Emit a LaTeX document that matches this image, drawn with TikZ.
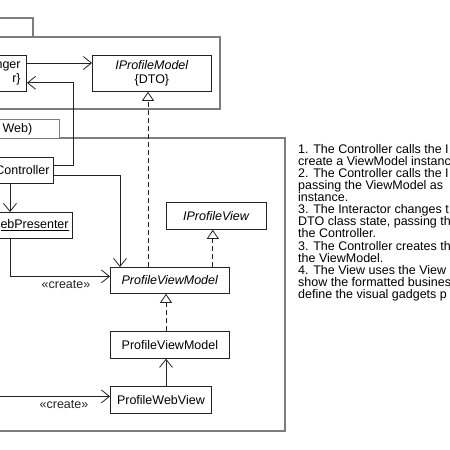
\documentclass[tikz,border=0pt]{standalone}
\usepackage{fontspec}
\setmainfont{Liberation Sans}
\usepackage{xcolor}
\definecolor{umlLine}{RGB}{35,35,35}
\definecolor{umlPkg}{RGB}{125,125,125}
\usepackage{tikz}
\usetikzlibrary{arrows.meta,calc}

\begin{document}
\begin{tikzpicture}[x=1pt,y=-1pt,
  cls/.style={draw=umlLine,line width=0.8pt,fill=white,font=\fontsize{12.5}{14}\selectfont,inner sep=0pt,anchor=north west,align=center,minimum height=26pt},
  cut/.style={cls,anchor=north east,text width=70pt,align=right,inner xsep=4pt},
  pkg/.style={draw=umlPkg,line width=1.3pt},
  dep/.style={-{Straight Barb[length=8pt,width=13pt]},umlLine,line width=0.8pt},
  real/.style={-{Triangle[open,length=9pt,width=12pt]},umlLine,line width=0.8pt,dash pattern=on 5pt off 3pt},
  lbl/.style={font=\fontsize{12.5}{14}\selectfont,inner sep=1pt},
  notes/.style={font=\fontsize{12.5}{12.1}\selectfont,inner sep=0pt,align=left}]
  \useasboundingbox (0,0) rectangle (450,450);
  \clip (0,0) rectangle (450,450);
  % packages
  \draw[pkg] (-10,18) -| (33,37);
  \draw[pkg] (-10,37) rectangle (220,109);
  \draw[pkg] (-10,138) rectangle (285,431);
  \node[cls,pkg,text width=45pt,align=left,inner xsep=12pt,minimum height=19pt] (tab) at (-10,119) {Web)};
  % classes
  \node[cut,inner xsep=6pt,minimum height=36pt] (mgr) at (27,55) {nger\\r\}\hspace*{3pt}};
  \node[cls,minimum width=119pt,minimum height=36pt] (dto) at (92,55) {\textit{IProfileModel}\\\{DTO\}};
  \node[cut] (ctrl) at (54,157) {Controller};
  \node[cut] (pres) at (73,212) {\underline{ebPresenter}};
  \node[cls,minimum width=100pt,minimum height=27pt] (iview) at (166,202) {\textit{IProfileView}};
  \node[cls,minimum width=119pt] (pvmi) at (110,267) {\textit{ProfileViewModel}};
  \node[cls,minimum width=119pt,minimum height=27pt] (pvm) at (110,331) {ProfileViewModel};
  \node[cls,minimum width=101pt,minimum height=27pt] (view) at (110,386) {ProfileWebView};
  \coordinate (lane) at (10,0);
  \coordinate (offpage) at (-5,0);
  % connectors
  \draw[dep] ([yshift=-8pt]mgr.north east) -- ([yshift=-8pt]dto.north west);
  \draw[dep] ([yshift=-8pt]ctrl.north east) -| ([xshift=46pt,yshift=9pt]mgr.south east) -- ([yshift=9pt]mgr.south east);
  \draw[dep] ([yshift=8pt]ctrl.south east) -| ([xshift=10pt]pvmi.north west);
  \draw[dep] (ctrl.south -| lane) -- (pres.north -| lane);
  \draw[dep] (pres.south -| lane) |- ([yshift=4pt]pvmi.west) node[lbl,pos=0.78,below=3pt] {«create»};
  \draw[dep] (offpage |- view.west) ++(0,-3.5) -- ([yshift=3.5pt]view.west) node[lbl,pos=0.6,below=3pt] {«create»};
  \draw[real] ([xshift=38pt]pvmi.north west) -- ([xshift=38pt]pvmi.north west |- dto.south);
  \draw[real] ([xshift=-17pt]pvmi.north east) -- ([xshift=-17pt]pvmi.north east |- iview.south);
  \draw[real] ([xshift=56pt]pvm.north west) -- ([xshift=56pt]pvm.north west |- pvmi.south);
  \draw[dep] ([xshift=56pt]view.north west) -- ([xshift=56pt]view.north west |- pvm.south);
  % steps
  \node[notes,anchor=north west] (steps) at (298,144) {1. The Controller calls the I\\create a ViewModel instance\\2. The Controller calls the I\\passing the ViewModel as\\instance.\\3. The Interactor changes t\\DTO class state, passing th\\the Controller.\\3. The Controller creates th\\the ViewModel.\\4. The View uses the View\\show the formatted business\\define the visual gadgets p};
\end{tikzpicture}
\end{document}
